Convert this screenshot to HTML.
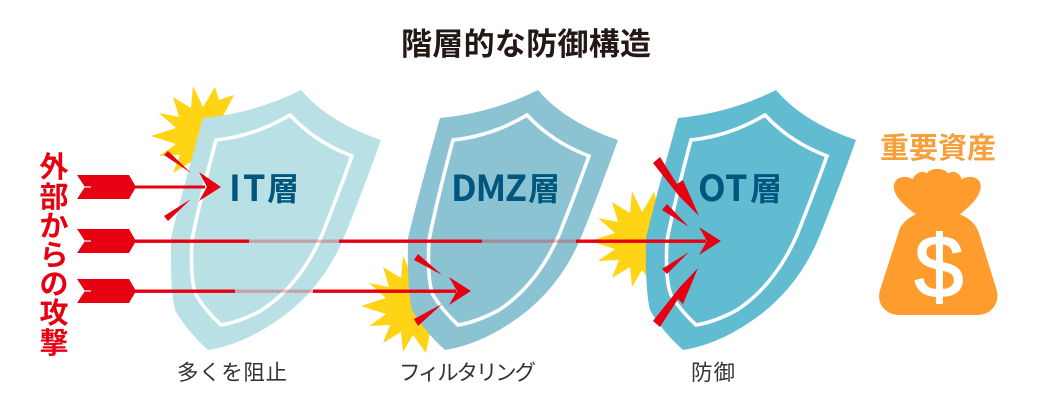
<!DOCTYPE html>
<html><head><meta charset="utf-8"><style>
html,body{margin:0;padding:0;background:#fff}
svg{display:block}
text{font-family:"Noto Sans CJK JP",sans-serif}
text.d{font-family:"Liberation Sans",sans-serif}
</style></head><body>
<svg width="1050" height="400" viewBox="0 0 1050 400" xmlns="http://www.w3.org/2000/svg">
<defs>
<polygon id="burst" points="632,191 642,212 654,192 658,205 673,200 660,225 665,240 660,262 655,288 642,270 632,287 630,267 612,278 619,260 598,261 615,249 590,241 615,233 598,218 618,222 612,202 630,213"/>
<path id="shield" d="M203,118 Q255,113 301,90 Q328,122 381,140 Q365,185 345,235 Q322,292 272,324 Q240,345 208,350 Q186,330 175,310 Q170,290 171,238 Q180,200 203,118 Z"/>
<path id="inner" d="M216,140 Q255,136 290,115 Q315,142 352,156 Q338,195 322,235 Q300,285 262,310 Q240,322 221,325 Q205,310 196,295 Q190,280 192,240 Q200,200 216,140 Z" fill="none" stroke="#fff" stroke-width="3.6"/>
<g id="fl"><polygon points="77,175 129,175 136,187 129,199 77,199 85,187" fill="#e60012"/><rect x="85" y="186.4" width="6" height="1.2" fill="#fff"/></g>
</defs>

<text x="401" y="55" font-size="31" font-weight="700" fill="#231815" textLength="250">階層的な防御構造</text>

<!-- bursts -->
<use href="#burst" fill="#ffd414" transform="translate(-439,-105)"/>
<use href="#burst" fill="#ffd414" transform="translate(-229,65)"/>
<use href="#burst" fill="#ffd414"/>

<!-- shields -->
<use href="#shield" fill="#b9e1e5"/>
<use href="#inner"/>
<use href="#shield" fill="#8bc3d3" transform="translate(237,0)"/>
<use href="#inner" transform="translate(237,0)"/>
<use href="#shield" fill="#61bcd1" transform="translate(475,0)"/>
<use href="#inner" transform="translate(475,0)"/>

<!-- labels -->
<g font-weight="700" fill="#00567d">
<text x="229" y="201" font-size="36">I</text>
<text x="243" y="201" font-size="36">T</text>
<text x="267" y="200" font-size="32">層</text>
<text x="451" y="201" font-size="36" textLength="76">DMZ</text>
<text x="528" y="200" font-size="32">層</text>
<text x="698" y="201" font-size="36">O</text>
<text x="725" y="201" font-size="36">T</text>
<text x="750" y="200" font-size="32">層</text>
</g>

<!-- arrows -->
<use href="#fl"/><use href="#fl" transform="translate(0,54)"/><use href="#fl" transform="translate(0,104)"/>
<g fill="#e60012">
<rect x="130" y="185.5" width="75" height="3"/>
<polygon points="199,172 221,187 199,201 207,187"/>
<rect x="130" y="239.5" width="119" height="3.4"/>
<rect x="339" y="239.5" width="143" height="3.4"/>
<rect x="576" y="239.5" width="130" height="3.4"/>
<polygon points="699,227 721,241 699,255 707,241"/>
<rect x="130" y="289.5" width="105" height="3.4"/>
<rect x="313" y="289.5" width="143" height="3.4"/>
<polygon points="449,277 471,291 449,305 457,291"/>
<polygon points="164,155 168,151 191,173"/>
<polygon points="164,216 168,221 191,199"/>
<polygon points="414,260 418,254 442,275"/>
<polygon points="414,319 418,326 442,304"/>
<polygon points="662,210 667,204 689,227"/>
<polygon points="662,269 667,274 689,252"/>
<polygon points="653,163 660,157 677,184 683,180 699,216 679,196"/>
<polygon points="653,321 660,327 678,299 683,304 698,268 680,287"/>
</g>
<g fill="#e60012" opacity=".28">
<rect x="249" y="239.5" width="90" height="3.4"/>
<rect x="482" y="239.5" width="94" height="3.4"/>
<rect x="235" y="289.5" width="78" height="3.4"/>
</g>

<!-- vertical text -->
<g font-size="29" font-weight="700" fill="#e60012" text-anchor="middle">
<text x="54" y="177">外</text>
<text x="54" y="207">部</text>
<text x="54" y="236">か</text>
<text x="54" y="265">ら</text>
<text x="54" y="294">の</text>
<text x="54" y="323">攻</text>
<text x="54" y="353">撃</text>
</g>

<!-- asset -->
<text x="880" y="158" font-size="29" font-weight="700" fill="#f6a03c" textLength="116">重要資産</text>
<g transform="translate(860,120) scale(.33333)">
<path fill="#ff9c2e" d="M168,283 C130,255 98,225 102,195 C106,168 140,165 158,178 C165,158 190,150 200,160 C215,142 250,142 265,160 C280,150 300,158 305,178 C325,165 358,168 362,195 C365,225 335,255 300,283 C330,295 350,315 357,340 L410,510 C420,550 395,585 350,585 L120,585 C75,585 48,550 60,510 L115,340 C120,315 140,295 168,283 Z"/>
</g>
<text class="d" x="939" y="297" font-size="88" fill="#fff" stroke="#fff" stroke-width="1.6" text-anchor="middle">$</text>

<!-- captions -->
<g font-size="21.5" fill="#333" font-weight="400">
<text x="177" y="380" textLength="110">多くを阻止</text>
<text x="399" y="380" textLength="137">フィルタリング</text>
<text x="691" y="380" textLength="44">防御</text>
</g>
</svg>
</body></html>
